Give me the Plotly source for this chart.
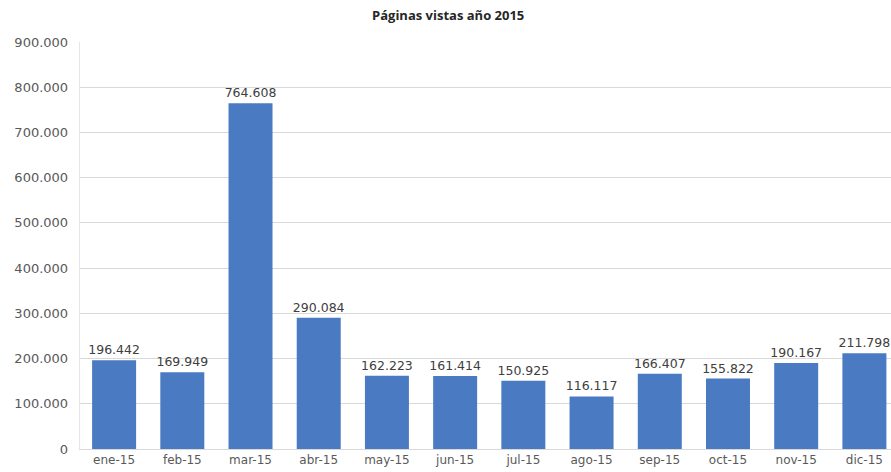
import plotly.graph_objects as go

meses = ['ene-15', 'feb-15', 'mar-15', 'abr-15', 'may-15', 'jun-15',
         'jul-15', 'ago-15', 'sep-15', 'oct-15', 'nov-15', 'dic-15']
vistas = [196442, 169949, 764608, 290084, 162223, 161414,
          150925, 116117, 166407, 155822, 190167, 211798]
etiquetas = [f'{v:,}'.replace(',', '.') for v in vistas]

fig = go.Figure()

fig.add_trace(go.Bar(x=meses, y=vistas,
                     marker=dict(color='#4A7BC2', line=dict(width=0)),
                     text=etiquetas,
                     textposition='outside',
                     constraintext='none',
                     cliponaxis=False,
                     textfont=dict(family='DejaVu Sans', size=12.5, color='#404040')))

fig.update_layout(
    width=891,
    height=472,
    margin=dict(l=80, r=0, t=42, b=23),
    paper_bgcolor='white',
    plot_bgcolor='white',
    separators=',.',
    bargap=0.355,
    showlegend=False,
    title=dict(text='<b>Páginas vistas año 2015</b>', x=0.503, xanchor='center',
               y=0.968, yanchor='middle',
               font=dict(family='Open Sans, Arial', size=13, color='#262626')),
    font=dict(family='DejaVu Sans', size=12, color='#595959'),
)

fig.update_xaxes(range=[-0.5, 11.39], showgrid=False, ticks='',
                 showline=True, linecolor='#d9d9d9', automargin=False,
                 tickfont=dict(size=12, color='#595959'))

fig.update_yaxes(range=[0, 900000], dtick=100000, tickformat=',d',
                 showgrid=True, gridcolor='#d9d9d9', zeroline=False,
                 showline=True, linecolor='#e6e6e6', ticks='',
                 ticksuffix='  ', automargin=False,
                 tickfont=dict(size=13, color='#595959'))

# drop the page's default body margin so the chart fills the window
fig.write_html("out.html", config={'displayModeBar': False},
               post_script="document.body.style.margin='0';")
